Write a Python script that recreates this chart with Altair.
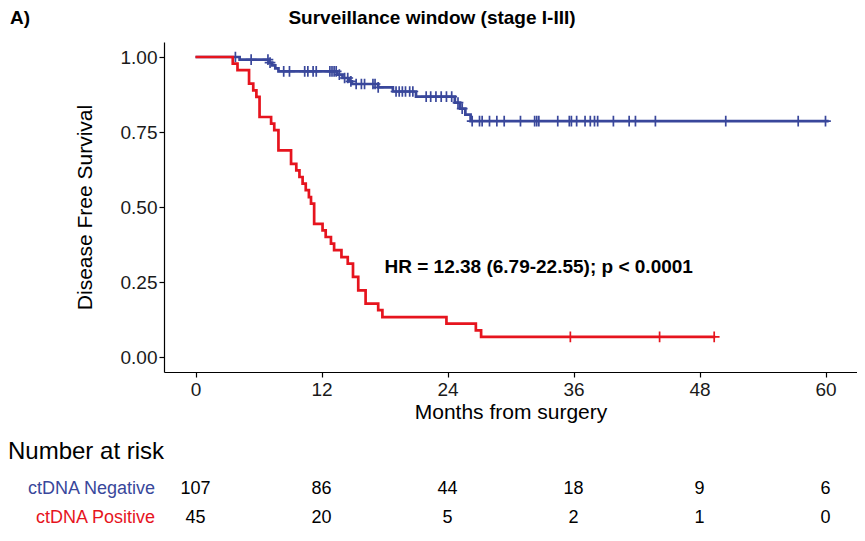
import altair as alt
import pandas as pd

# ---- data ----
neg_step_t = [0, 4.2, 7.0, 7.3, 7.6, 7.9, 13.5, 14.0, 14.6, 14.9, 17.4, 18.8, 21.0, 24.7, 25.2, 25.7, 26.2, 60.3]
neg_step_s = [1.0, 0.991, 0.981, 0.972, 0.962, 0.952, 0.941, 0.930, 0.919, 0.910, 0.899, 0.885, 0.868, 0.848, 0.828, 0.808, 0.786, 0.786]
neg_censor_t = [3.8, 5.3, 6.9, 7.1, 8.4, 8.95, 10.4, 10.7, 11.2, 11.5, 12.8, 13.0, 13.2, 13.4,
                13.7, 14.2, 14.5, 14.8, 15.3, 15.8, 16.1, 16.9, 17.1, 17.4, 19.1, 19.4, 19.7, 20.0,
                20.4, 20.7, 21.97, 22.4, 22.9, 23.4, 23.9, 24.4, 25.0, 25.4, 26.35, 27.05, 27.3, 28.0,
                28.7, 29.4, 30.95, 32.3, 32.5, 32.7, 34.5, 35.6, 35.8, 36.3, 37.1, 37.6, 38.0, 38.3,
                39.8, 41.3, 41.9, 43.8, 50.5, 57.4, 60.0]

pos_step_t = [0, 3.55, 4.0, 5.1, 5.5, 5.8, 6.1, 7.2, 7.5, 7.9, 9.1, 9.6, 9.9, 10.2, 10.5, 10.8, 11.0,
              11.3, 12.1, 12.4, 12.9, 13.2, 13.9, 14.5, 15.0, 15.5, 16.2, 17.4, 17.8, 23.9, 26.7, 27.2, 49.5]
pos_step_s = [1.0, 0.978, 0.956, 0.911, 0.889, 0.867, 0.800, 0.778, 0.756, 0.689, 0.644, 0.622, 0.600,
              0.578, 0.556, 0.533, 0.511, 0.444, 0.422, 0.400, 0.378, 0.356, 0.333, 0.311, 0.267, 0.222,
              0.178, 0.156, 0.133, 0.111, 0.089, 0.067, 0.067]
pos_censor_t = [35.7, 44.2, 49.4]

risk_times = [0, 12, 24, 36, 48, 60]
risk_neg = [107, 86, 44, 18, 9, 6]
risk_pos = [45, 20, 5, 2, 1, 0]

groups = ["ctDNA Negative", "ctDNA Positive"]
colors = ["#39479B", "#E6141E"]
hr_label = "HR = 12.38 (6.79-22.55); p < 0.0001"
FONT = "Liberation Sans"


def level_at(ts, ss, t):
    val = ss[0]
    for ti, si in zip(ts, ss):
        if ti <= t:
            val = si
    return val


neg_df = pd.DataFrame({"t": neg_step_t, "s": neg_step_s, "g": groups[0]})
pos_df = pd.DataFrame({"t": pos_step_t, "s": pos_step_s, "g": groups[1]})
neg_c = pd.DataFrame({"t": neg_censor_t, "s": [level_at(neg_step_t, neg_step_s, t) for t in neg_censor_t], "g": groups[0]})
pos_c = pd.DataFrame({"t": pos_censor_t, "s": [level_at(pos_step_t, pos_step_s, t) for t in pos_censor_t], "g": groups[1]})
risk_df = pd.DataFrame({"t": risk_times, "neg": risk_neg, "pos": risk_pos})
hr_df = pd.DataFrame({"t": [18.0], "s": [0.30], "label": [hr_label]})

x_scale = alt.Scale(domain=[-3, 63], nice=False, zero=False)
y_scale = alt.Scale(domain=[-0.05, 1.05], nice=False, zero=False)
col_scale = alt.Scale(domain=groups, range=colors)

X = alt.X("t:Q", scale=x_scale, title="Months from surgery",
          axis=alt.Axis(values=risk_times, format="d", titlePadding=2, labelPadding=3))
Y = alt.Y("s:Q", scale=y_scale, title="Disease Free Survival",
          axis=alt.Axis(values=[0, 0.25, 0.5, 0.75, 1.0], format=".2f", titlePadding=25, labelPadding=2))

cross = "M-1,0L1,0M0,-1L0,1"


def curve(df, cdf):
    line = alt.Chart(df).mark_line(interpolate="step-after", strokeWidth=2.7).encode(
        x=X, y=Y, color=alt.Color("g:N", scale=col_scale, legend=None))
    pts = alt.Chart(cdf).mark_point(shape=cross, filled=False, size=115, strokeWidth=1.7, opacity=1).encode(
        x="t:Q", y="s:Q", color=alt.Color("g:N", scale=col_scale, legend=None))
    return line + pts


hr = alt.Chart(hr_df).mark_text(align="left", baseline="middle", font=FONT, fontSize=19,
                                fontWeight="bold", color="black").encode(x="t:Q", y="s:Q", text="label:N")

row1 = alt.Chart(risk_df).mark_text(align="center", baseline="middle", font=FONT, fontSize=18,
                                    color="black").encode(x="t:Q", y=alt.value(447), text="neg:Q")
row2 = alt.Chart(risk_df).mark_text(align="center", baseline="middle", font=FONT, fontSize=18,
                                    color="black").encode(x="t:Q", y=alt.value(476), text="pos:Q")

lbl_neg = alt.Chart(pd.DataFrame({"g": [groups[0]]})).mark_text(
    align="right", baseline="middle", font=FONT, fontSize=18, color=colors[0]).encode(
    x=alt.value(-9), y=alt.value(447), text="g:N")
lbl_pos = alt.Chart(pd.DataFrame({"g": [groups[1]]})).mark_text(
    align="right", baseline="middle", font=FONT, fontSize=18, color=colors[1]).encode(
    x=alt.value(-9), y=alt.value(476), text="g:N")
risk_head = alt.Chart(pd.DataFrame({"l": ["Number at risk"]})).mark_text(
    align="left", baseline="middle", font=FONT, fontSize=24, color="black").encode(
    x=alt.value(-156), y=alt.value(410), text="l:N")
title = alt.Chart(pd.DataFrame({"l": ["Surveillance window (stage I-III)"]})).mark_text(
    align="center", baseline="middle", font=FONT, fontSize=19, fontWeight="bold", color="black").encode(
    x=alt.value(268), y=alt.value(-24), text="l:N")
panel = alt.Chart(pd.DataFrame({"l": ["A)"]})).mark_text(
    align="left", baseline="middle", font=FONT, fontSize=19, fontWeight="bold", color="black").encode(
    x=alt.value(-154), y=alt.value(-24), text="l:N")

chart = alt.layer(
    curve(neg_df, neg_c), curve(pos_df, pos_c), hr, row1, row2, lbl_neg, lbl_pos, risk_head, title, panel
).properties(
    width=693, height=330,
    autosize=alt.AutoSizeParams(type="none"),
    padding={"left": 156, "top": 34, "right": 0, "bottom": 161},
    background="white",
).configure_view(stroke=None).configure_axis(
    grid=False, domainColor="black", domainWidth=1.2, tickColor="black", tickWidth=1.2, tickSize=5,
    labelFont=FONT, labelFontSize=19, labelColor="#1a1a1a",
    titleFont=FONT, titleFontSize=21, titleFontWeight="normal", titleColor="black",
)

chart.save("out.html", embed_options={"renderer": "svg", "actions": False})
